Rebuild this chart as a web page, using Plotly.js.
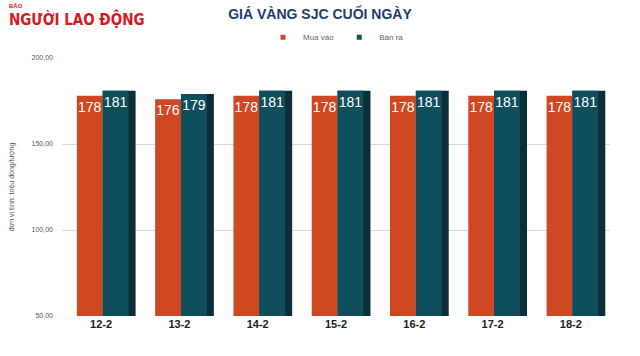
<!DOCTYPE html>
<html>
<head>
<meta charset="utf-8">
<script src="https://cdn.plot.ly/plotly-3.0.1.min.js"></script>
<style>html,body{margin:0;padding:0;background:#fff;}#chart{width:640px;height:356px;}</style>
</head>
<body>
<div id="chart"></div>
<script>
const dates = ["12-2", "13-2", "14-2", "15-2", "16-2", "17-2", "18-2"];
const muaVao = [178, 176, 178, 178, 178, 178, 178];
const banRa = [181, 179, 181, 181, 181, 181, 181];
const yTicks = [50, 100, 150, 200];
const yTickLabels = ["50,00", "100,00", "150,00", "200,00"];

const orange = "#cf4822";
const teal = "#0f4f5d";
const tealSide = "#0b2f38";
const labelFont = {color: "#ffffff", size: 14, family: "Arial, Liberation Sans, sans-serif"};

const traces = [
  {
    type: "bar", name: "Mua vào", x: dates, y: muaVao,
    offset: -0.31, width: 0.33,
    marker: {color: orange},
    text: muaVao.map(String), textposition: "inside", insidetextanchor: "end",
    textangle: 0, constraintext: "none",
    textfont: labelFont, showlegend: false,
    cliponaxis: false, hoverinfo: "skip"
  },
  {
    type: "bar", name: "side", x: dates, y: banRa,
    offset: 0.02, width: 0.42,
    marker: {color: tealSide},
    showlegend: false, hoverinfo: "skip"
  },
  {
    type: "bar", name: "Bán ra", x: dates, y: banRa,
    offset: 0.02, width: 0.33,
    marker: {color: teal},
    text: banRa.map(String), textposition: "inside", insidetextanchor: "end",
    textangle: 0, constraintext: "none",
    textfont: labelFont, showlegend: false,
    cliponaxis: false, hoverinfo: "skip"
  },
  {
    type: "scatter", mode: "markers", name: "Mua vào", x: [null], y: [null],
    marker: {symbol: "square", size: 5, color: orange}, hoverinfo: "skip"
  },
  {
    type: "scatter", mode: "markers", name: "Bán ra", x: [null], y: [null],
    marker: {symbol: "square", size: 5, color: teal}, hoverinfo: "skip"
  }
];

const layout = {
  width: 640, height: 356,
  paper_bgcolor: "#ffffff", plot_bgcolor: "#ffffff",
  margin: {l: 62, r: 30, t: 58, b: 40},
  barmode: "overlay",
  showlegend: true,
  legend: {
    orientation: "h", x: 0.5, xanchor: "center", y: 1.08, yanchor: "middle",
    font: {size: 8, color: "#666666", family: "Arial, Liberation Sans, sans-serif"},
    traceorder: "normal", itemwidth: 30, bgcolor: "rgba(0,0,0,0)"
  },
  title: {
    text: "<b>GIÁ VÀNG SJC CUỐI NGÀY</b>",
    x: 0.5, xanchor: "center", y: 0.96, yanchor: "middle",
    font: {size: 14, color: "#1e3d6e", family: "Arial, Liberation Sans, sans-serif"}
  },
  xaxis: {
    type: "category", range: [-0.5, 6.5],
    showgrid: false, zeroline: false, showline: false,
    ticks: "",
    tickfont: {size: 11, color: "#222222", family: "Arial, Liberation Sans, sans-serif", weight: "bold"}
  },
  yaxis: {
    range: [50, 200],
    tickvals: yTicks, ticktext: yTickLabels,
    showgrid: true, gridcolor: "#d9d9d9", gridwidth: 1,
    zeroline: false, showline: false, ticks: "",
    tickfont: {size: 7, color: "#555555", family: "Arial, Liberation Sans, sans-serif"},
    ticklabelstandoff: 8,
    title: {
      text: "đơn vị tính: triệu đồng/lượng",
      font: {size: 7, color: "#555555", family: "Arial, Liberation Sans, sans-serif"},
      standoff: 16
    }
  },
  annotations: [
    {
      text: "BÁO", xref: "paper", yref: "paper", x: -0.1, y: 1.2, xanchor: "left", yanchor: "middle",
      showarrow: false, font: {size: 6, color: "#d7191f", family: "Arial, Liberation Sans, sans-serif", weight: "bold"}
    },
    {
      text: "<b>NGƯỜI LAO ĐỘNG</b>", xref: "paper", yref: "paper", x: -0.1, y: 1.15, xanchor: "left", yanchor: "middle",
      showarrow: false, font: {size: 15, color: "#d7191f", family: "Liberation Sans Narrow, Arial Narrow, DejaVu Sans Condensed, sans-serif"}
    }
  ]
};

Plotly.newPlot("chart", traces, layout, {displayModeBar: false, staticPlot: true});
</script>
</body>
</html>
